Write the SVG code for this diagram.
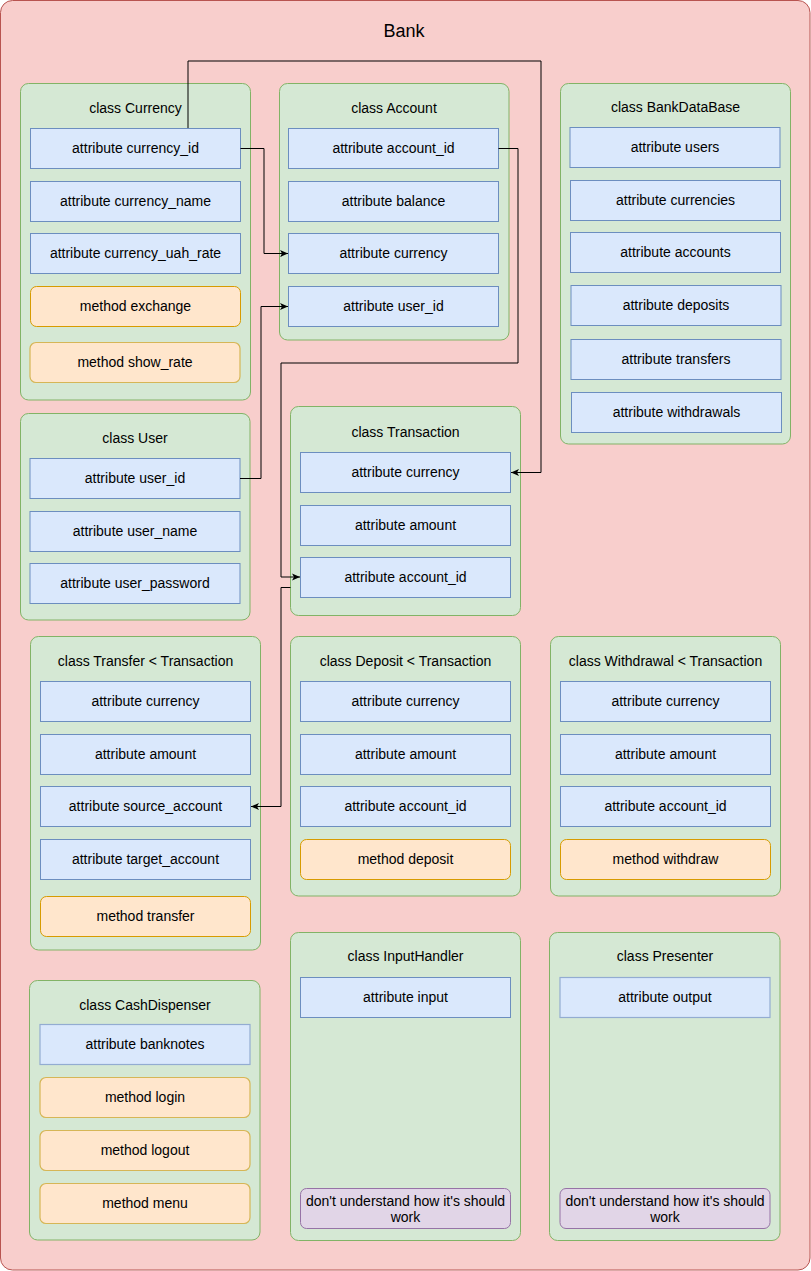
<svg xmlns="http://www.w3.org/2000/svg" width="811" height="1271" viewBox="0 0 811 1271">
<defs>
<style>
text{font-family:"Liberation Sans",Arial,Helvetica,sans-serif;font-size:14px;text-anchor:middle;fill:#000}
.bank{fill:#f8cecc;stroke:#b85450;stroke-width:1}
.c{fill:#d5e8d4;stroke:#82b366;stroke-width:1}
.a{fill:#dae8fc;stroke:#6c8ebf;stroke-width:1}
.a2{fill:#dae8fc;stroke:#93acd1;stroke-width:1.2}
.m{fill:#ffe6cc;stroke:#d79b00;stroke-width:1}
.m2{fill:#ffe6cc;stroke:#d6b656;stroke-width:1.2}
.n{fill:#e1d5e7;stroke:#9673a6;stroke-width:1}
.e{fill:none;stroke:#000;stroke-width:1}
</style>
<marker id="arr" viewBox="0 0 8 8" refX="8" refY="4" markerWidth="8" markerHeight="8" markerUnits="userSpaceOnUse" orient="auto">
<path d="M0,0.5 L8,4 L0,7.5 L2,4 Z" fill="#000"/>
</marker>
</defs>

<g id="bank">
<rect class="bank" x="0.5" y="0.5" width="809.5" height="1269.5" rx="12"/>
<text x="404" y="37" style="font-size:18px">Bank</text>
</g>

<g id="currency">
<rect class="c" x="20.5" y="83.5" width="230" height="316.5" rx="8"/>
<text x="135.5" y="113">class Currency</text>
<rect class="a" x="30.5" y="128.5" width="210" height="40"/>
<text x="135.5" y="152.5">attribute currency_id</text>
<rect class="a" x="30.5" y="181.5" width="210" height="40"/>
<text x="135.5" y="205.5">attribute currency_name</text>
<rect class="a" x="30.5" y="233.5" width="210" height="40"/>
<text x="135.5" y="257.5">attribute currency_uah_rate</text>
<rect class="m" x="30.5" y="286.5" width="210" height="40" rx="6"/>
<text x="135.5" y="310.5">method exchange</text>
<rect class="m2" x="30" y="342.5" width="210" height="40" rx="6"/>
<text x="135" y="366.5">method show_rate</text>
</g>

<g id="account">
<rect class="c" x="279.5" y="83.5" width="229.5" height="256.5" rx="8"/>
<text x="394" y="113">class Account</text>
<rect class="a" x="288.5" y="128.5" width="210" height="40"/>
<text x="393.5" y="152.5">attribute account_id</text>
<rect class="a" x="288.5" y="181.5" width="210" height="40"/>
<text x="393.5" y="205.5">attribute balance</text>
<rect class="a" x="288.5" y="233.5" width="210" height="40"/>
<text x="393.5" y="257.5">attribute currency</text>
<rect class="a" x="288.5" y="286.5" width="210" height="40"/>
<text x="393.5" y="310.5">attribute user_id</text>
</g>

<g id="bankdatabase">
<rect class="c" x="560.5" y="83.5" width="230" height="360.5" rx="8"/>
<text x="675.5" y="112">class BankDataBase</text>
<rect class="a" x="570" y="127.5" width="210" height="40"/>
<text x="675" y="151.5">attribute users</text>
<rect class="a" x="570.5" y="180.5" width="210" height="40"/>
<text x="675.5" y="204.5">attribute currencies</text>
<rect class="a" x="570.5" y="232.5" width="210" height="40"/>
<text x="675.5" y="256.5">attribute accounts</text>
<rect class="a" x="571" y="285.5" width="210" height="40"/>
<text x="676" y="309.5">attribute deposits</text>
<rect class="a" x="571" y="339.5" width="210" height="40"/>
<text x="676" y="363.5">attribute transfers</text>
<rect class="a" x="571.5" y="392.5" width="210" height="40"/>
<text x="676.5" y="416.5">attribute withdrawals</text>
</g>

<g id="user">
<rect class="c" x="20.5" y="413.5" width="229.5" height="206.5" rx="8"/>
<text x="135" y="443">class User</text>
<rect class="a" x="30" y="458.5" width="210" height="40"/>
<text x="135" y="482.5">attribute user_id</text>
<rect class="a" x="30" y="511.5" width="210" height="40"/>
<text x="135" y="535.5">attribute user_name</text>
<rect class="a" x="30" y="563.5" width="210" height="40"/>
<text x="135" y="587.5">attribute user_password</text>
</g>

<g id="transaction">
<rect class="c" x="290.5" y="406.5" width="230" height="209" rx="8"/>
<text x="405.5" y="437">class Transaction</text>
<rect class="a" x="300.5" y="452.5" width="210" height="40"/>
<text x="405.5" y="476.5">attribute currency</text>
<rect class="a" x="300.5" y="505.5" width="210" height="40"/>
<text x="405.5" y="529.5">attribute amount</text>
<rect class="a" x="300.5" y="557.5" width="210" height="40"/>
<text x="405.5" y="581.5">attribute account_id</text>
</g>

<g id="transfer">
<rect class="c" x="30.5" y="636.5" width="230" height="313.5" rx="8"/>
<text x="145.5" y="666">class Transfer &lt; Transaction</text>
<rect class="a" x="40.5" y="681.5" width="210" height="40"/>
<text x="145.5" y="705.5">attribute currency</text>
<rect class="a" x="40.5" y="734.5" width="210" height="40"/>
<text x="145.5" y="758.5">attribute amount</text>
<rect class="a" x="40.5" y="786.5" width="210" height="40"/>
<text x="145.5" y="810.5">attribute source_account</text>
<rect class="a" x="40.5" y="839.5" width="210" height="40"/>
<text x="145.5" y="863.5">attribute target_account</text>
<rect class="m" x="40.5" y="896.5" width="210" height="40" rx="6"/>
<text x="145.5" y="920.5">method transfer</text>
</g>

<g id="deposit">
<rect class="c" x="290.5" y="636.5" width="230" height="259.5" rx="8"/>
<text x="405.5" y="666">class Deposit &lt; Transaction</text>
<rect class="a" x="300.5" y="681.5" width="210" height="40"/>
<text x="405.5" y="705.5">attribute currency</text>
<rect class="a" x="300.5" y="734.5" width="210" height="40"/>
<text x="405.5" y="758.5">attribute amount</text>
<rect class="a" x="300.5" y="786.5" width="210" height="40"/>
<text x="405.5" y="810.5">attribute account_id</text>
<rect class="m" x="300.5" y="839.5" width="210" height="40" rx="6"/>
<text x="405.5" y="863.5">method deposit</text>
</g>

<g id="withdrawal">
<rect class="c" x="550.5" y="636.5" width="230" height="259.5" rx="8"/>
<text x="665.5" y="666">class Withdrawal &lt; Transaction</text>
<rect class="a" x="560.5" y="681.5" width="210" height="40"/>
<text x="665.5" y="705.5">attribute currency</text>
<rect class="a" x="560.5" y="734.5" width="210" height="40"/>
<text x="665.5" y="758.5">attribute amount</text>
<rect class="a" x="560.5" y="786.5" width="210" height="40"/>
<text x="665.5" y="810.5">attribute account_id</text>
<rect class="m" x="560.5" y="839.5" width="210" height="40" rx="6"/>
<text x="665.5" y="863.5">method withdraw</text>
</g>

<g id="cashdispenser">
<rect class="c" x="29.5" y="980.5" width="230.5" height="259.5" rx="8"/>
<text x="145" y="1010">class CashDispenser</text>
<rect class="a2" x="40" y="1024.5" width="210" height="40"/>
<text x="145" y="1048.5">attribute banknotes</text>
<rect class="m2" x="40" y="1077.5" width="210" height="40" rx="6"/>
<text x="145" y="1101.5">method login</text>
<rect class="m2" x="40" y="1130.5" width="210" height="40" rx="6"/>
<text x="145" y="1154.5">method logout</text>
<rect class="m2" x="40" y="1183.5" width="210" height="40" rx="6"/>
<text x="145" y="1207.5">method menu</text>
</g>

<g id="inputhandler">
<rect class="c" x="290.5" y="932.5" width="230" height="308" rx="8"/>
<text x="405.5" y="961">class InputHandler</text>
<rect class="a" x="300.5" y="977.5" width="210" height="40"/>
<text x="405.5" y="1001.5">attribute input</text>
<rect class="n" x="300.5" y="1188.5" width="210" height="40" rx="6"/>
<text x="405.5" y="1206">don't understand how it's should</text>
<text x="405.5" y="1222">work</text>
</g>

<g id="presenter">
<rect class="c" x="549.5" y="932.5" width="230.5" height="308" rx="8"/>
<text x="665" y="961">class Presenter</text>
<rect class="a2" x="560" y="977.5" width="210" height="40"/>
<text x="665" y="1001.5">attribute output</text>
<rect class="n" x="560" y="1188.5" width="210" height="40" rx="6"/>
<text x="665" y="1206">don't understand how it's should</text>
<text x="665" y="1222">work</text>
</g>

<g id="connectors">
<path class="e" d="M188,128 V61 H541 V472.5 H511" marker-end="url(#arr)"/>
<path class="e" d="M240.5,148.5 H264 V253.5 H288" marker-end="url(#arr)"/>
<path class="e" d="M240,478.5 H261 V306.5 H288" marker-end="url(#arr)"/>
<path class="e" d="M498.5,148.5 H518 V363 H281 V577 H300" marker-end="url(#arr)"/>
<path class="e" d="M290.5,587.5 H281 V806.5 H251" marker-end="url(#arr)"/>
</g>
</svg>
